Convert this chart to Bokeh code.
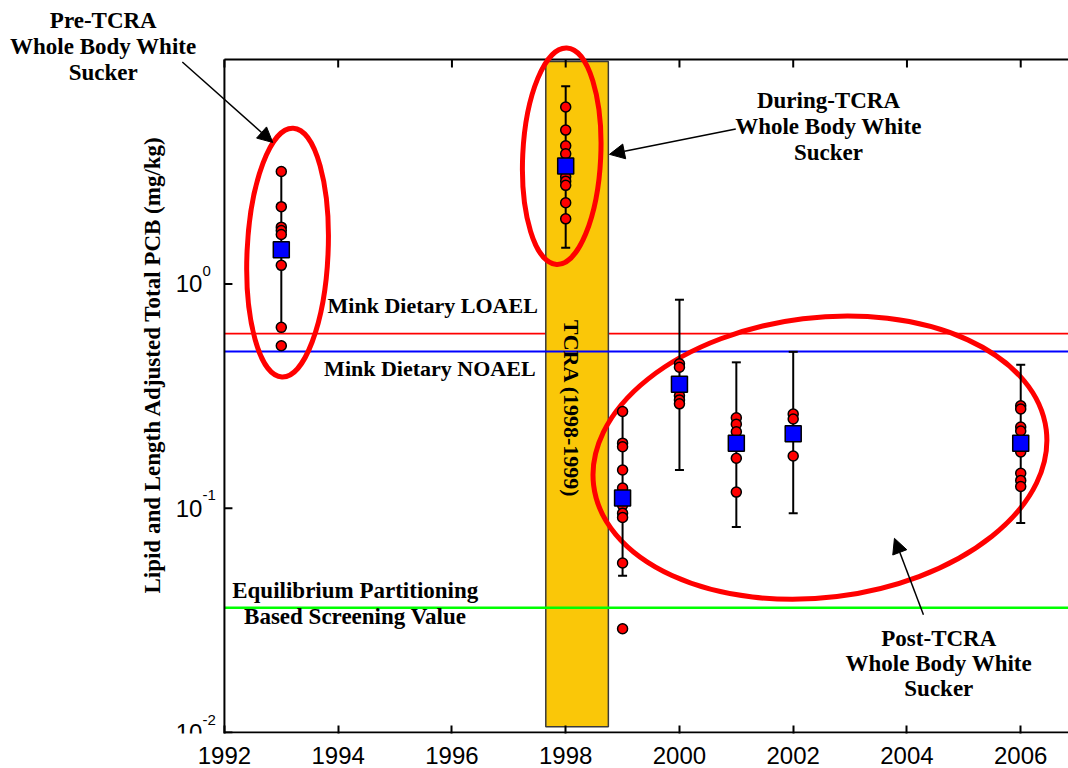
import math
from bokeh.plotting import figure
from bokeh.models import (Range1d, FixedTicker, Label, Arrow, NormalHead)
from bokeh.embed import file_html
from bokeh.resources import INLINE

# ---------------- data ----------------
x_ticks = [1992, 1994, 1996, 1998, 2000, 2002, 2004, 2006]
y_ticks = [0.01, 0.1, 1, 10]
y_tick_exponents = ["-2", "-1", "0", "1"]
axis_x0, axis_x1 = 1992, 2006.84      # plotted box (left edge year, right edge year)
axis_y0, axis_y1 = 0.01, 10           # plotted box (bottom, top)

sample_years = [1993, 1998, 1999, 2000, 2001, 2002, 2006]
sample_values = [
    [3.17, 2.21, 1.79, 1.73, 1.66, 1.21, 0.64, 0.53],
    [6.15, 4.85, 4.13, 3.80, 3.00, 2.87, 2.75, 2.30, 1.95],
    [0.27, 0.195, 0.188, 0.148, 0.123, 0.103, 0.095, 0.091, 0.057, 0.029],
    [0.44, 0.425, 0.317, 0.304, 0.292],
    [0.253, 0.237, 0.219, 0.167, 0.118],
    [0.263, 0.25, 0.171],
    [0.286, 0.277, 0.23, 0.221, 0.178, 0.143, 0.133, 0.125],
]
mean_values = [1.42, 3.35, 0.111, 0.357, 0.195, 0.215, 0.195]
err_lower = [0.64, 1.45, 0.050, 0.148, 0.0825, 0.095, 0.086]
err_upper = [3.17, 7.60, 0.266, 0.85, 0.447, 0.498, 0.436]

loael = 0.6
noael = 0.5
eqp_screening = 0.036

tcra_left, tcra_right = [1997.65], [1998.75]
tcra_bottom, tcra_top = [0.0106], [9.8]

# ellipses (center year, center value, width px, height px, angle rad)
ell_x = [1993.11, 1997.93, 2002.47]
ell_y = [1.38, 3.71, 0.168]
ell_w = [81, 78, 456]
ell_h = [249, 217, 280]
ell_angle = [-0.045, -0.047, 0.122]

# ---------------- figure ----------------
# the frame spans the whole canvas so that the call-out texts in the margins can be drawn
p = figure(width=1068, height=768, y_axis_type="log",
           x_range=Range1d(1988.063, axis_x1), y_range=Range1d(0.0099, 18.34),
           output_backend="svg", toolbar_location=None,
           min_border_left=0, min_border_top=0, min_border_bottom=35,
           min_border_right=0)
p.outline_line_color = None
p.xgrid.visible = False
p.ygrid.visible = False
p.yaxis.visible = False
p.background_fill_color = "white"

xa = p.xaxis[0]
xa.ticker = FixedTicker(ticks=x_ticks)
xa.axis_line_color = None
xa.major_tick_line_width = 2
xa.major_tick_in = 8
xa.major_tick_out = 0
xa.minor_tick_line_color = None
xa.major_label_text_font = "Liberation Sans"
xa.major_label_text_font_size = "24px"
xa.major_label_text_color = "black"
xa.major_label_text_line_height = 0.6
xa.major_label_standoff = 13

# reference line (red) below the TCRA bar
p.ray(x=[axis_x0], y=[loael], length=0, angle=0, line_color="#FF0000", line_width=1.7)

# TCRA bar
p.quad(left=tcra_left, right=tcra_right, bottom=tcra_bottom, top=tcra_top,
       fill_color="#FAC708", line_color="#3a3a3a", line_width=1.5)

p.ray(x=[axis_x0], y=[noael], length=0, angle=0, line_color="#0000FF", line_width=2)
p.ray(x=[axis_x0], y=[eqp_screening], length=0, angle=0, line_color="#00FF00", line_width=2.6)

# box lines (left, bottom, top) and inward ticks
p.segment(x0=[axis_x0, axis_x0, axis_x0], y0=[axis_y0 * 0.99, axis_y0, axis_y1],
          x1=[axis_x0, axis_x1, axis_x1], y1=[axis_y1, axis_y0, axis_y1],
          line_color="black", line_width=2)
p.ray(x=x_ticks, y=[axis_y1] * len(x_ticks), length=8, length_units="screen",
      angle=-math.pi / 2, line_color="black", line_width=2)
p.ray(x=[axis_x0] * 3, y=y_ticks[:3], length=8, length_units="screen",
      angle=0, line_color="black", line_width=2)

# ellipses
p.ellipse(x=ell_x, y=ell_y, width=ell_w, height=ell_h, angle=ell_angle,
          width_units="screen", height_units="screen",
          fill_color=None, line_color="#FF0000", line_width=5)

# error bars
p.segment(x0=sample_years, y0=err_lower, x1=sample_years, y1=err_upper,
          line_color="black", line_width=2)
p.scatter(x=sample_years + sample_years, y=err_upper + err_lower, marker="dash",
          size=9, line_color="black", line_width=2)

# individual samples
px, py = [], []
for yr, vals in zip(sample_years, sample_values):
    px += [yr] * len(vals)
    py += vals
p.scatter(x=px, y=py, marker="circle", size=10, fill_color="#FF0000",
          line_color="black", line_width=1.5)

# means
p.scatter(x=sample_years, y=mean_values, marker="square", size=16, fill_color="#0000FF",
          line_color="black", line_width=1.5)

# ---------------- y tick labels 10^n ----------------
for v, e in zip(y_ticks[:3], y_tick_exponents[:3]):
    p.add_layout(Label(x=axis_x0, y=v, x_offset=-22, text="10", text_align="right",
                       text_baseline="middle", text_font="Liberation Sans",
                       text_font_size="24px", text_color="black"))
    p.add_layout(Label(x=axis_x0, y=v, x_offset=-22, y_offset=13, text=e, text_align="left",
                       text_baseline="middle", text_font="Liberation Sans",
                       text_font_size="15px", text_color="black"))

# ---------------- annotations ----------------
serif = "Liberation Serif"

def block(lines, x, y, spacing, align="center", size="23px"):
    for i, t in enumerate(lines):
        p.add_layout(Label(x=x, y=y, y_offset=-i * spacing, text=t, text_align=align,
                           text_baseline="middle", text_font=serif,
                           text_font_style="bold", text_font_size=size,
                           text_color="black"))

block(["Pre-TCRA", "Whole Body White", "Sucker"], 1989.87, 15.0, 26)
block(["During-TCRA", "Whole Body White", "Sucker"], 2002.62, 6.60, 26)
block(["Post-TCRA", "Whole Body White", "Sucker"], 2004.56, 0.0262, 25)
block(["Equilibrium Partitioning", "Based Screening Value"], 1994.30, 0.0430, 26)
block(["Mink Dietary LOAEL"], 1997.51, 0.80, 0, align="right", size="22px")
block(["Mink Dietary NOAEL"], 1997.47, 0.418, 0, align="right", size="22px")

p.add_layout(Label(x=1998.1, y=0.277, text="TCRA (1998-1999)", angle=-math.pi / 2,
                   text_align="center", text_baseline="middle", text_font=serif,
                   text_font_style="bold", text_font_size="22px", text_color="black"))

p.add_layout(Label(x=axis_x0, y=0.45, x_offset=-72,
                   text="Lipid and Length Adjusted  Total PCB (mg/kg)", angle=math.pi / 2,
                   text_align="center", text_baseline="middle", text_font=serif,
                   text_font_style="bold", text_font_size="23px", text_color="black"))

# arrows
arrows = [
    (1991.26, 9.76, 1992.85, 4.27),
    (2000.99, 4.90, 1998.77, 3.78),
    (2004.29, 0.0335, 2003.78, 0.0734),
]
for xs, ys, xe, ye in arrows:
    p.add_layout(Arrow(x_start=xs, y_start=ys, x_end=xe, y_end=ye, line_width=1.5,
                       line_color="black",
                       end=NormalHead(size=15, fill_color="black", line_color="black",
                                      line_width=1)))

open("out.html", "w").write(file_html(p, INLINE))
